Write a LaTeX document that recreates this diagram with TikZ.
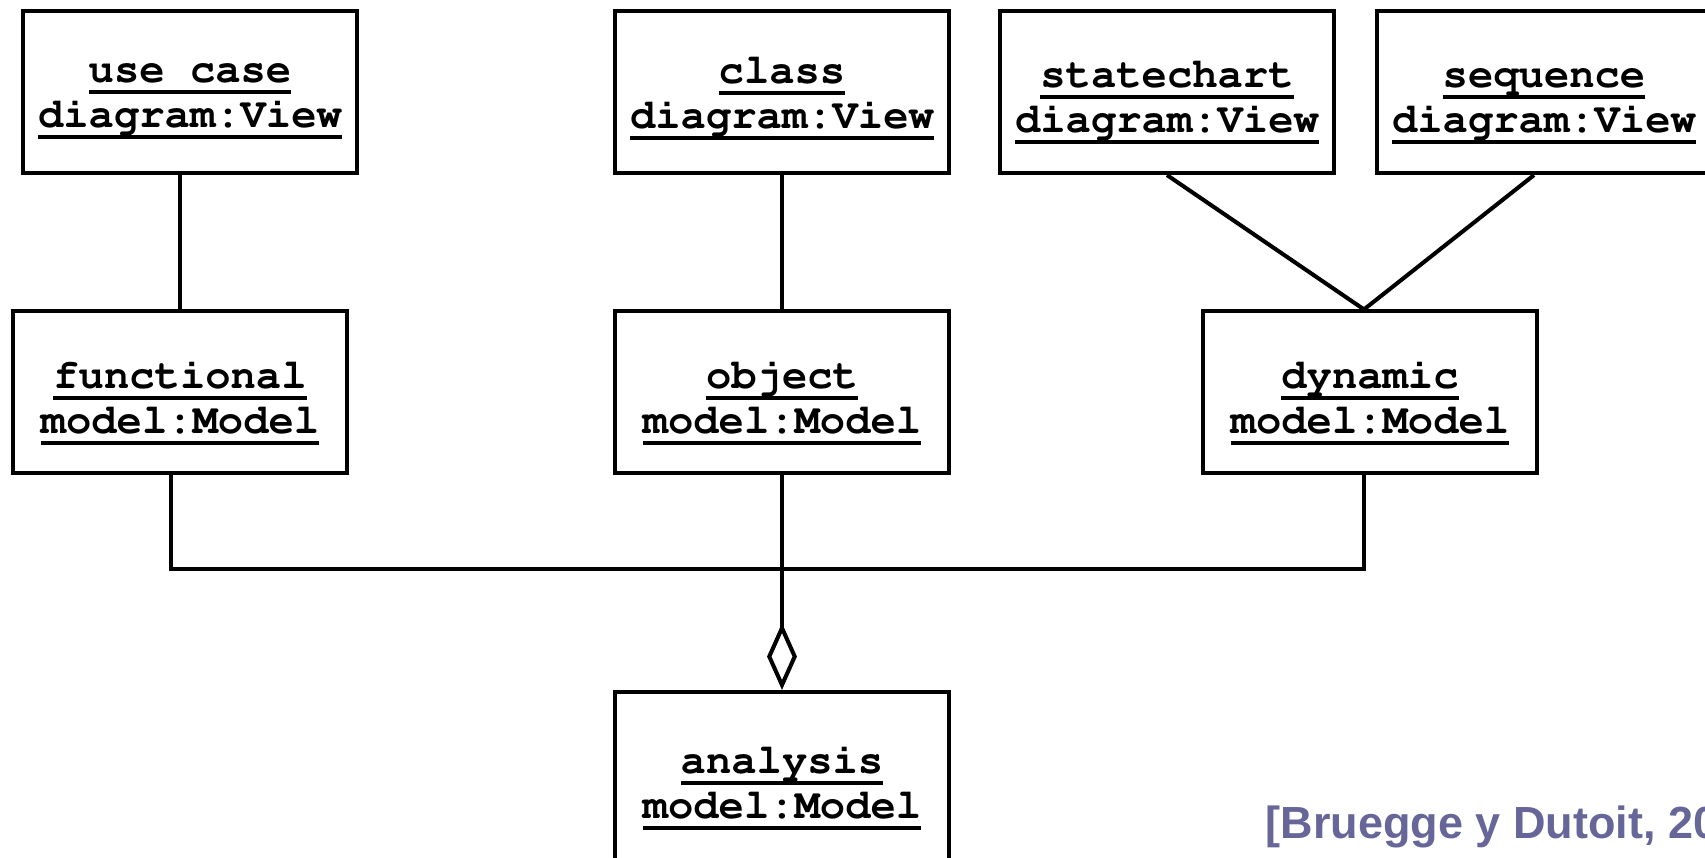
\documentclass[tikz,border=0pt]{standalone}
\usepackage[T1,TU]{fontenc}
\usepackage{fontspec}
\setmainfont{Liberation Sans}
\usepackage{xcolor}
\usetikzlibrary{arrows.meta}
\definecolor{citeblue}{HTML}{666699}
\newcommand\Und[1]{\setbox0\hbox{#1}\rlap{\vrule height -2.2pt depth 3.35pt width \wd0}\box0}
\newcommand\ObjName[2]{\Und{#1}\\\Und{#2}}

\begin{document}
\begin{tikzpicture}
      [
        x=0.01cm, y=-0.01cm,
        obj/.style={draw, line width=1.15pt, inner sep=0pt, minimum width=3.33cm, align=center,
          font=\fontencoding{T1}\fontfamily{pcr}\bfseries\fontsize{12}{12.8}\selectfont},
        view/.style={obj, text depth=\dimexpr1.62cm-#1\relax, text height=#1},
        model/.style={obj, text depth=\dimexpr1.61cm-#1\relax, text height=#1},
        link/.style={line width=1.15pt}
      ]

      \useasboundingbox (0,0) rectangle (1705,857);
      \clip (0,0) rectangle (1705,857);

      \node[view=1.16cm] (UseCase) at (190,92) {\ObjName{use case}{diagram:View}};
      \node[view=1.17cm] (Class) at (782,92) {\ObjName{class}{diagram:View}};
      \node[view=1.21cm] (State) at (1167,92) {\ObjName{statechart}{diagram:View}};
      \node[view=1.21cm] (Seq) at (1544,92) {\ObjName{sequence}{diagram:View}};

      \node[model=1.22cm] (Func) at (180,392) {\ObjName{functional}{model:Model}};
      \node[model=1.22cm] (Obj) at (782,392) {\ObjName{object}{model:Model}};
      \node[model=1.22cm] (Dyn) at (1370,392) {\ObjName{dynamic}{model:Model}};

      \node[obj, text height=1.26cm, text depth=0.8cm] (Ana) at (782,795) {\ObjName{analysis}{model:Model}};

      \node[anchor=base west, inner sep=0pt, text=citeblue,
        font=\bfseries\fontsize{12.8}{14}\selectfont] (Cite) at (1265,838) {[Bruegge y Dutoit, 20};

      \draw[link] (UseCase.south -| Func.north) -- (Func.north);
      \draw[link] (Class.south) -- (Obj.north);
      \draw[link] (State.south) -- ([xshift=-0.06cm]Dyn.north);
      \draw[link] ([xshift=-0.1cm]Seq.south) -- ([xshift=-0.06cm]Dyn.north);

      \coordinate (Hub) at (Obj.south |- 0,569);
      \draw[link] ([xshift=-0.09cm]Func.south) |- (Hub) -| ([xshift=-0.06cm]Dyn.south);
      \draw[link,-{Diamond[open,length=19pt,width=8.5pt]}] (Obj.south) -- (Ana.north);
    \end{tikzpicture}
\end{document}
